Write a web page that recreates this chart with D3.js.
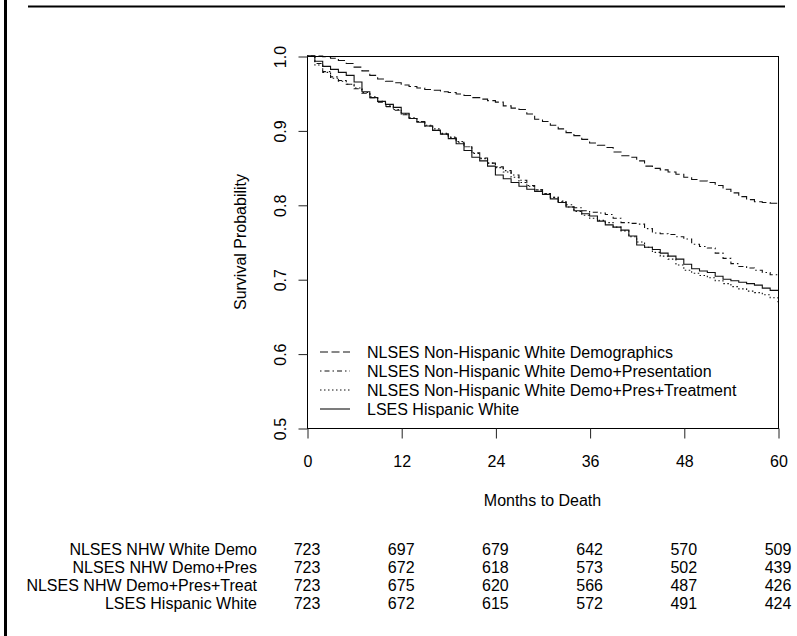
<!DOCTYPE html>
<html>
<head>
<meta charset="utf-8">
<script src="https://cdn.jsdelivr.net/npm/d3@7"></script>
<style>
  body { margin: 0; background: #fff; }
  text { font-family: "Liberation Sans", Arial, Helvetica, sans-serif; fill: #000; }
</style>
</head>
<body>
<div id="chart"></div>
<script>
(function() {

// Months (x values) and survival estimates
var months = [0,1,2,3,4,5,6,7,8,9,10,11,12,13,14,15,16,17,18,19,20,
              21,22,23,24,25,26,27,28,29,30,31,32,33,34,35,36,37,38,39,40,
              41,42,43,44,45,46,47,48,49,50,51,52,53,54,55,56,57,58,59,60];

var survDemo = [1.000,1.000,0.999,0.997,0.994,0.990,0.985,0.980,0.974,0.969,0.966,
                0.964,0.961,0.959,0.957,0.955,0.954,0.952,0.951,0.949,0.947,
                0.944,0.942,0.940,0.938,0.933,0.930,0.928,0.922,0.915,0.912,
                0.907,0.902,0.897,0.893,0.888,0.883,0.880,0.877,0.871,0.866,
                0.864,0.859,0.852,0.849,0.847,0.844,0.841,0.837,0.834,0.832,
                0.830,0.826,0.821,0.816,0.811,0.807,0.804,0.803,0.802,0.801];

var survDemoPres = [1.000,0.990,0.979,0.972,0.967,0.962,0.956,0.950,0.944,0.938,0.932,
                    0.927,0.921,0.916,0.912,0.906,0.900,0.895,0.890,0.884,0.878,
                    0.870,0.863,0.856,0.851,0.846,0.840,0.833,0.826,0.820,0.815,
                    0.810,0.805,0.800,0.796,0.792,0.790,0.789,0.787,0.782,0.776,
                    0.775,0.774,0.768,0.762,0.761,0.760,0.757,0.754,0.747,0.744,
                    0.742,0.735,0.728,0.721,0.717,0.715,0.712,0.709,0.706,0.703];

var survDemoPresTreat = [1.000,0.988,0.978,0.970,0.966,0.962,0.957,0.951,0.945,0.939,0.933,
                         0.928,0.922,0.917,0.912,0.907,0.902,0.896,0.891,0.885,0.878,
                         0.869,0.862,0.856,0.850,0.844,0.837,0.830,0.825,0.820,0.815,
                         0.810,0.804,0.797,0.791,0.786,0.782,0.779,0.776,0.770,0.765,
                         0.757,0.750,0.743,0.736,0.731,0.727,0.719,0.712,0.708,0.705,
                         0.702,0.698,0.694,0.690,0.687,0.684,0.682,0.679,0.675,0.669];

var survHispanic = [1.000,0.993,0.986,0.982,0.978,0.974,0.965,0.952,0.944,0.939,0.935,
                    0.931,0.923,0.916,0.911,0.906,0.900,0.895,0.889,0.882,0.873,
                    0.864,0.859,0.852,0.840,0.835,0.830,0.825,0.821,0.818,0.814,
                    0.808,0.803,0.797,0.792,0.788,0.785,0.778,0.773,0.770,0.766,
                    0.758,0.746,0.743,0.740,0.735,0.731,0.727,0.720,0.714,0.711,
                    0.709,0.704,0.700,0.698,0.696,0.694,0.692,0.688,0.685,0.684];

var legendNames = ['NLSES Non-Hispanic White Demographics',
                   'NLSES Non-Hispanic White Demo+Presentation',
                   'NLSES Non-Hispanic White Demo+Pres+Treatment',
                   'LSES Hispanic White'];

// number at risk table
var tableLabels = ['NLSES NHW White Demo', 'NLSES NHW Demo+Pres',
                   'NLSES NHW Demo+Pres+Treat', 'LSES Hispanic White'];
var tableTimes = [0, 12, 24, 36, 48, 60];
var atRiskDemo = [723, 697, 679, 642, 570, 509];
var atRiskDemoPres = [723, 672, 618, 573, 502, 439];
var atRiskDemoPresTreat = [723, 675, 620, 566, 487, 426];
var atRiskHispanic = [723, 672, 615, 572, 491, 424];

var xTicks = [0, 12, 24, 36, 48, 60];
var yTicks = [0.5, 0.6, 0.7, 0.8, 0.9, 1.0];

var W = 797, H = 636;
var plot = {left: 307, right: 778, top: 56, bottom: 428};

var x = d3.scaleLinear().domain([0, 60]).range([plot.left, plot.right]);
var y = d3.scaleLinear().domain([0.5, 1]).range([plot.bottom, plot.top]);

var dashes = ['8,3.5', '1.5,3,5,3', '1.5,2.5', null];
var series = [survDemo, survDemoPres, survDemoPresTreat, survHispanic];
var atRisk = [atRiskDemo, atRiskDemoPres, atRiskDemoPresTreat, atRiskHispanic];

var svg = d3.select('#chart').append('svg')
    .attr('width', W)
    .attr('height', H);

// page frame bits (left bar and top rule)
svg.append('rect').attr('x', 4).attr('y', 0).attr('width', 3).attr('height', H).attr('fill', '#000');
svg.append('line').attr('x1', 28).attr('x2', 785).attr('y1', 6.5).attr('y2', 6.5)
    .attr('stroke', '#000').attr('stroke-width', 2);

// curves
var line = d3.line()
    .x(function(d) { return x(d[0]); })
    .y(function(d) { return y(d[1]); })
    .curve(d3.curveStepAfter);

series.forEach(function(s, i) {
  var pts = months.map(function(m, j) { return [m, s[j]]; });
  svg.append('path')
      .datum(pts)
      .attr('fill', 'none')
      .attr('stroke', '#111')
      .attr('stroke-width', 1.1)
      .attr('stroke-dasharray', dashes[i])
      .attr('d', line);
});

// box
svg.append('rect')
    .attr('x', plot.left + 0.5).attr('y', plot.top + 0.5)
    .attr('width', plot.right - plot.left).attr('height', plot.bottom - plot.top)
    .attr('fill', 'none').attr('stroke', '#000').attr('stroke-width', 1);

// x axis
var gx = svg.append('g')
    .attr('transform', 'translate(0.5,' + (plot.bottom + 0.5) + ')')
    .call(d3.axisBottom(x).tickValues(xTicks).tickSize(10).tickPadding(17).tickSizeOuter(0));
gx.select('.domain').remove();
gx.selectAll('text').style('font-size', '16px').attr('fill', '#000');
gx.selectAll('line').attr('stroke', '#222');

// y axis
var gy = svg.append('g')
    .attr('transform', 'translate(' + (plot.left + 0.5) + ',0.5)')
    .call(d3.axisLeft(y).tickValues(yTicks).tickFormat(d3.format('.1f')).tickSize(9).tickSizeOuter(0));
gy.select('.domain').remove();
gy.selectAll('line').attr('stroke', '#222');
gy.selectAll('text')
    .style('font-size', '16px')
    .attr('fill', '#000')
    .attr('x', null).attr('dy', null)
    .attr('text-anchor', 'middle')
    .attr('transform', 'translate(-22,0) rotate(-90)');

// axis titles
svg.append('text')
    .attr('transform', 'translate(246,' + ((plot.top + plot.bottom) / 2) + ') rotate(-90)')
    .attr('text-anchor', 'middle')
    .style('font-size', '16px')
    .text('Survival Probability');

svg.append('text')
    .attr('x', (plot.left + plot.right) / 2)
    .attr('y', 506)
    .attr('text-anchor', 'middle')
    .style('font-size', '16px')
    .text('Months to Death');

// legend
var legY = [352, 371, 390, 409];
legendNames.forEach(function(name, i) {
  svg.append('line')
      .attr('x1', 320).attr('x2', 350)
      .attr('y1', legY[i]).attr('y2', legY[i])
      .attr('stroke', '#111').attr('stroke-width', 1.1)
      .attr('stroke-dasharray', dashes[i]);
  svg.append('text')
      .attr('x', 367).attr('y', legY[i])
      .attr('dy', '0.35em')
      .style('font-size', '16px')
      .text(name);
});

// number at risk table
var rowY = [549, 567, 585, 603];
tableLabels.forEach(function(lab, i) {
  svg.append('text')
      .attr('x', 257).attr('y', rowY[i])
      .attr('dy', '0.35em')
      .attr('text-anchor', 'end')
      .style('font-size', '16px')
      .text(lab);
  svg.selectAll(null)
      .data(atRisk[i])
      .enter().append('text')
      .attr('x', function(d, j) { return x(tableTimes[j]); })
      .attr('y', rowY[i])
      .attr('dy', '0.35em')
      .attr('text-anchor', 'middle')
      .style('font-size', '16px')
      .text(function(d) { return d; });
});

})();
</script>
</body>
</html>
